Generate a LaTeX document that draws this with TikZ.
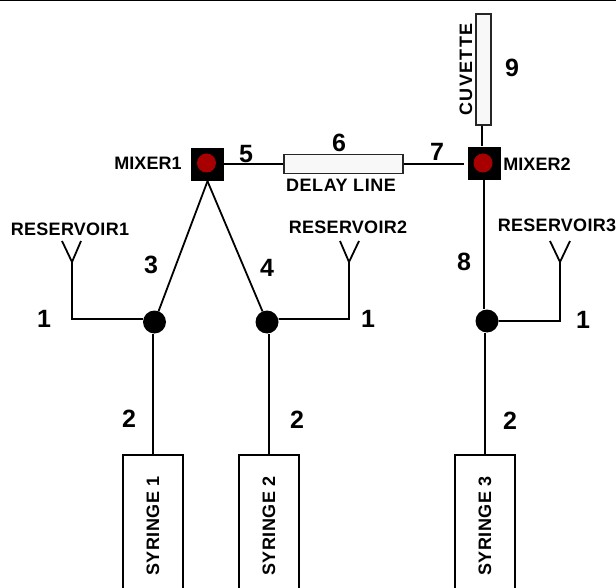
\documentclass[tikz,border=0pt]{standalone}
\usepackage{fontspec}
\setmainfont{Liberation Sans}
\definecolor{mixerred}{RGB}{168,0,0}
\definecolor{tubefill}{RGB}{248,248,248}
\tikzset{
	tube/.style={line width=1.8pt},
	mixerbox/.style={rectangle,fill=black,minimum size=33pt,inner sep=0pt},
	mixerdot/.style={circle,fill=mixerred,minimum size=19pt,inner sep=0pt},
	junction/.style={circle,fill=black,minimum size=23pt,inner sep=0pt},
	syringebox/.style={rectangle,draw,line width=1.8pt,rotate=90,minimum width=142pt,minimum height=60pt,inner sep=0pt,font=\fontsize{18}{20}\selectfont\bfseries\addfontfeature{LetterSpace=3}},
	glassbox/.style={rectangle,draw=black!85,fill=tubefill,line width=1.8pt,inner sep=0pt},
	partname/.style={inner sep=0pt,font=\fontsize{18}{20}\selectfont\bfseries\addfontfeature{LetterSpace=#1}},
	partname/.default=1.5,
	partnum/.style={inner sep=0pt,font=\fontsize{25}{27}\selectfont\bfseries},
}
\begin{document}
\begin{tikzpicture}[x=1pt,y=-1pt]
		\useasboundingbox (0,0) rectangle (616,588);
		\clip (0,0) rectangle (616,588);
		\draw[line width=1.2pt] (0,0.6)--(616,0.6);
		% mixers, delay line and cuvette
		\node[mixerbox] (mixerone) at (207.5,164.5) {};
		\node[mixerdot] (dotone) at (206.5,163) {};
		\node[mixerbox] (mixertwo) at (484,163.5) {};
		\node[mixerdot] (dottwo) at (483,163) {};
		\node[glassbox,minimum width=119pt,minimum height=19pt] (delay) at (343.5,164) {};
		\node[glassbox,minimum width=15pt,minimum height=111pt] (cuvette) at (483.5,69.5) {};
		% junctions
		\node[junction] (junctionone) at (154.5,322) {};
		\node[junction] (junctiontwo) at (267,322) {};
		\node[junction] (junctionthree) at (487,321) {};
		% syringes
		\node[syringebox] (syringeone) at (153,526) {SYRINGE 1};
		\node[syringebox] (syringetwo) at (269,526) {SYRINGE 2};
		\node[syringebox] (syringethree) at (485,526) {SYRINGE 3};
		% reservoir ends
		\coordinate (resone) at (72,262);
		\coordinate (restwo) at (349,262);
		\coordinate (resthree) at (560,262);
		\draw[tube] (mixerone.east |- delay.west)--(delay.west);
		\draw[tube,shorten >=3pt] (delay.east)--(delay.east -| mixertwo.west);
		\draw[tube,shorten >=1pt] (cuvette.south)++(-1.5,0)--(482,147);
		\draw[tube] (mixerone.south)--(junctionone);
		\draw[tube] (mixerone.south)--(junctiontwo);
		\draw[tube] (mixertwo.south)--(mixertwo.south |- junctionthree.north);
		\draw[tube] (syringeone.east)--(syringeone.east |- junctionone.south);
		\draw[tube] (syringetwo.east)--(syringetwo.east |- junctiontwo.south);
		\draw[tube] (syringethree.east)--(syringethree.east |- junctionthree.south);
		\draw[tube] (62,241)--(resone)--(81,241)
			(resone)--(72,319)--(junctionone.west |- 0,319);
		\draw[tube] (340,241)--(restwo)--(359,241)
			(restwo)--(349,319)--(junctiontwo.east |- 0,319);
		\draw[tube] (550,241)--(resthree)--(570,241)
			(resthree)--(560,321)--(junctionthree.east);
		% names
		\node[partname=0.5] (nameone) at (148,163) {MIXER1};
		\node[partname=0.5] (nametwo) at (537,164) {MIXER2};
		\node[partname=3] (namedelay) at (341,185) {DELAY LINE};
		\node[partname=8,rotate=90] (namecuvette) at (466,69.5) {CUVETTE};
		\node[partname] (nameresone) at (70,229) {RESERVOIR1};
		\node[partname] (namerestwo) at (348,227) {RESERVOIR2};
		\node[partname] (nameresthree) at (557,225) {RESERVOIR3};
		% numbers
		\node[partnum] (numa) at (44,319) {1};
		\node[partnum] (numb) at (368,319) {1};
		\node[partnum] (numc) at (583,320) {1};
		\node[partnum] (numd) at (129,419) {2};
		\node[partnum] (nume) at (297,420) {2};
		\node[partnum] (numf) at (510,421) {2};
		\node[partnum] (numg) at (151,265) {3};
		\node[partnum] (numh) at (267,268) {4};
		\node[partnum] (numi) at (246,154) {5};
		\node[partnum] (numj) at (339,143) {6};
		\node[partnum] (numk) at (437,152) {7};
		\node[partnum] (numl) at (464,262) {8};
		\node[partnum] (numm) at (512,68) {9};
	\end{tikzpicture}
\end{document}
